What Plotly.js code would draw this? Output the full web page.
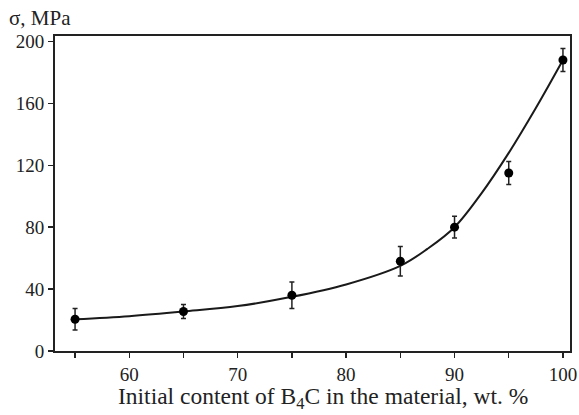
<!DOCTYPE html>
<html>
<head>
<meta charset="utf-8">
<script src="https://cdn.plot.ly/plotly-3.0.1.min.js"></script>
<style>html,body{margin:0;padding:0;background:#fff;}#chart{width:579px;height:415px;}</style>
</head>
<body>
<div id="chart"></div>
<script>
// Measured points
const contentPct = [55, 65, 75, 85, 90, 95, 100];
const strengthMPa = [20.5, 25.5, 36, 58, 80, 115, 188];
const errorMPa = [7, 4.5, 8.5, 9.5, 7, 7.5, 7.5];
// Fitted curve
const fitX = [55, 60, 65, 70, 75, 80, 85, 87.5, 90, 92.5, 95, 97.5, 100];
const fitY = [20.5, 22.5, 25.5, 29, 35, 43, 55, 66, 80, 102, 128, 157, 188];
const xTicks = [60, 70, 80, 90, 100];
const yTicks = [0, 40, 80, 120, 160, 200];

const serif = "Liberation Serif, Times New Roman, serif";

const traces = [
  {
    x: fitX, y: fitY, type: 'scatter', mode: 'lines',
    line: {color: '#1a1a1a', width: 2, shape: 'spline', smoothing: 1},
    hoverinfo: 'skip', showlegend: false
  },
  {
    x: contentPct, y: strengthMPa, type: 'scatter', mode: 'markers',
    marker: {color: '#000', size: 9},
    error_y: {type: 'data', array: errorMPa, visible: true, color: '#222', thickness: 1.5, width: 2.5},
    showlegend: false
  }
];

const layout = {
  width: 579, height: 415,
  margin: {l: 55, r: 9, t: 36, b: 64},
  paper_bgcolor: '#fff', plot_bgcolor: '#fff',
  font: {family: serif, color: '#222'},
  xaxis: {
    range: [53.15, 100.65],
    tickvals: xTicks,
    ticks: 'outside', ticklen: 5, tickwidth: 1.5, tickcolor: '#222',
    minor: {tickvals: [55, 65, 75, 85, 95], ticks: 'outside', ticklen: 5, tickwidth: 1.5, tickcolor: '#222'},
    showline: true, linewidth: 2, linecolor: '#222', mirror: true,
    showgrid: false, zeroline: false,
    tickfont: {family: serif, size: 19, color: '#222'}
  },
  yaxis: {
    range: [0, 203.5],
    tickvals: yTicks,
    ticks: 'outside', ticklen: 5, tickwidth: 1.5, tickcolor: '#222',
    showline: true, linewidth: 2, linecolor: '#222', mirror: true,
    showgrid: false, zeroline: false,
    tickfont: {family: serif, size: 19, color: '#222'}
  },
  annotations: [
    {
      text: 'Initial content of B<sub>4</sub>C in the material, wt. %',
      xref: 'paper', yref: 'paper', x: 0.52, y: -0.15,
      xanchor: 'center', yanchor: 'middle', showarrow: false,
      font: {family: serif, size: 23.5, color: '#222'}
    },
    {
      text: 'σ, MPa',
      xref: 'paper', yref: 'paper', x: -0.093, y: 1.057,
      xanchor: 'left', yanchor: 'middle', showarrow: false,
      font: {family: serif, size: 21, color: '#222'}
    }
  ]
};

Plotly.newPlot('chart', traces, layout, {displayModeBar: false, staticPlot: true});
</script>
</body>
</html>
